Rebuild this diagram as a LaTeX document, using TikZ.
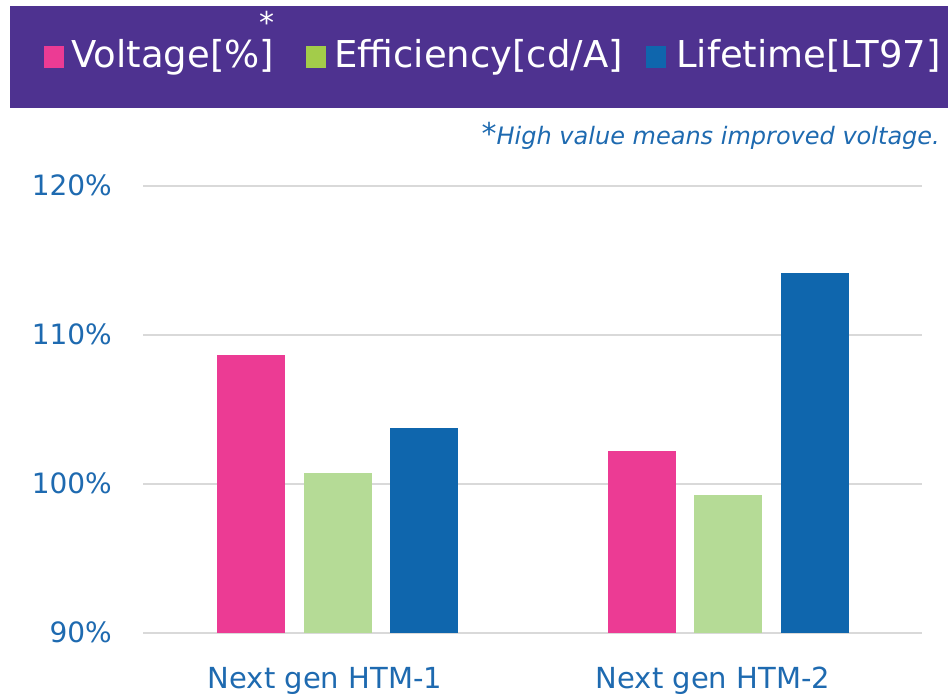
\documentclass[tikz,border=0pt]{standalone}
\usepackage{fontspec}
\setmainfont{DejaVu Sans}
\usetikzlibrary{calc}

\definecolor{bandpurple}{HTML}{4E3290}
\definecolor{voltpink}{HTML}{EC3B94}
\definecolor{effgreen}{HTML}{B5DB96}
\definecolor{effkey}{HTML}{A3CC4A}
\definecolor{lifeblue}{HTML}{0F66AD}
\definecolor{axisblue}{HTML}{1E6AB0}
\definecolor{gridgray}{HTML}{D9D9D9}

\begin{document}
\begin{tikzpicture}[x=1pt,y=1pt,
    gridline/.style={draw=gridgray, line width=1.5pt},
    ticklabel/.style={anchor=base east, inner sep=0pt, text=axisblue, font=\fontsize{28}{28}\selectfont},
    catlabel/.style={anchor=base, inner sep=0pt, text=axisblue, font=\fontsize{29}{29}\selectfont},
    keytext/.style={anchor=base west, inner sep=0pt, text=white, font=\fontsize{37}{37}\selectfont}]
    \useasboundingbox (0,0) rectangle (948,695);

    %BANNER
    \fill[bandpurple] (10,587) rectangle (948,689);
    \fill[voltpink] (44,627) rectangle (64,649);
    \node[keytext] (keyvolt) at (71,627) {Voltage[\%]};
    \node[anchor=base, inner sep=0pt, text=white, font=\fontsize{30}{30}\selectfont] (star) at (267,661) {*};
    \fill[effkey] (306,627) rectangle (326,649);
    \node[keytext] (keyeff) at (334,627) {Efficiency[cd/A]};
    \fill[lifeblue] (646,627) rectangle (666,649);
    \node[keytext] (keylife) at (676,627) {Lifetime[LT97]};

    %NOTE
    \node[anchor=base east, inner sep=0pt, text=axisblue, font=\fontsize{24}{24}\selectfont\itshape] (note) at (940,550)
        {{\fontsize{30}{30}\selectfont *}High value means improved voltage.};

    %GRID
    \foreach \p in {90,100,110,120}{
        \draw[gridline] (143,{62+(\p-90)*14.9}) -- (922,{62+(\p-90)*14.9});
        \node[ticklabel] (tick\p) at (112,{52+(\p-90)*14.9}) {\p\%};
    }

    %BARS
    \foreach \x/\v/\c in {217/108.66/voltpink, 304/100.74/effgreen, 390/103.76/lifeblue,
                          608/102.21/voltpink, 694/99.26/effgreen, 781/114.16/lifeblue}
        \fill[\c] (\x,62) rectangle ({\x+68},{62+(\v-90)*14.9});

    %CATEGORIES
    \node[catlabel] (htm1) at (325,6) {Next gen HTM-1};
    \node[catlabel] (htm2) at (713,6) {Next gen HTM-2};
\end{tikzpicture}
\end{document}
